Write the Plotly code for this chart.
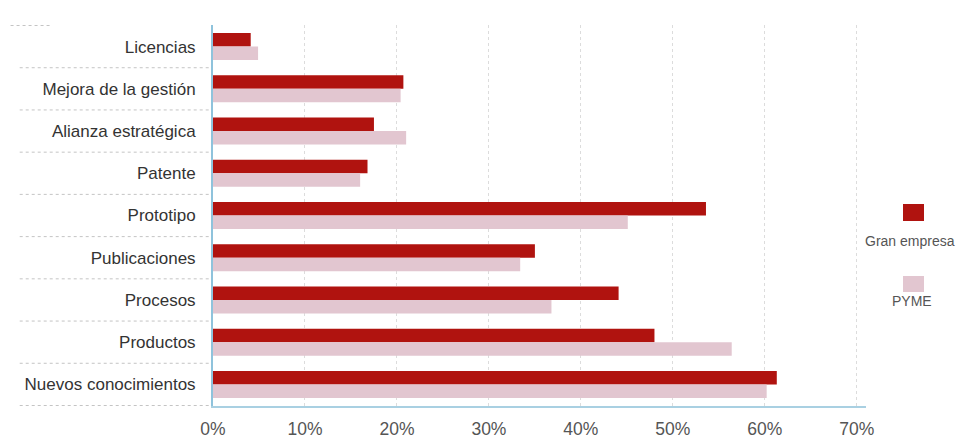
import plotly.graph_objects as go

categories = ["Licencias", "Mejora de la gestión", "Alianza estratégica", "Patente",
              "Prototipo", "Publicaciones", "Procesos", "Productos", "Nuevos conocimientos"]
gran_empresa = [4.1, 20.7, 17.5, 16.8, 53.6, 35.0, 44.1, 48.0, 61.3]
pyme = [4.9, 20.4, 21.0, 16.0, 45.1, 33.4, 36.8, 56.4, 60.2]
tick_vals = [0, 10, 20, 30, 40, 50, 60, 70]
tick_text = ["0%", "10%", "20%", "30%", "40%", "50%", "60%", "70%"]
legend_names = ["Gran empresa", "PYME"]

RED = "#b0130f"
PINK = "#e2c6d0"
FONT = "Liberation Sans"

fig = go.Figure()
fig.add_trace(go.Bar(y=categories, x=gran_empresa, orientation="h", name=legend_names[0],
                     marker=dict(color=RED, line=dict(width=0)), offsetgroup="a"))
fig.add_trace(go.Bar(y=categories, x=pyme, orientation="h", name=legend_names[1],
                     marker=dict(color=PINK, line=dict(width=0)), offsetgroup="b"))

# plot area (screen px): x 213..866, y 25..406
def px_x(x):
    return (x - 213) / 653

def px_y(y):
    return (406 - y) / 381

shapes = []
n = len(categories)
for i in range(n + 1):
    yv = i - 0.5
    x0 = -0.31 if i == 0 else -0.296
    x1 = -0.25 if i == 0 else -0.005
    shapes.append(dict(type="line", xref="paper", yref="y", x0=x0, x1=x1,
                       y0=yv, y1=yv, line=dict(color="#c4c4c4", width=1, dash="dot"),
                       layer="below"))

shapes.append(dict(type="rect", xref="paper", yref="paper",
                   x0=px_x(903), x1=px_x(924), y0=px_y(221), y1=px_y(204),
                   fillcolor=RED, line=dict(width=0)))
shapes.append(dict(type="rect", xref="paper", yref="paper",
                   x0=px_x(903), x1=px_x(924), y0=px_y(292), y1=px_y(276),
                   fillcolor=PINK, line=dict(width=0)))

annotations = [
    dict(text=legend_names[0], xref="paper", yref="paper",
         x=px_x(910), y=px_y(241), showarrow=False,
         xanchor="center", yanchor="middle", font=dict(family=FONT, size=14, color="#555")),
    dict(text=legend_names[1], xref="paper", yref="paper",
         x=px_x(912), y=px_y(301), showarrow=False,
         xanchor="center", yanchor="middle", font=dict(family=FONT, size=14, color="#555")),
]

fig.update_layout(
    width=957, height=430,
    margin=dict(l=205, r=99, t=17, b=32, autoexpand=False),
    paper_bgcolor="white", plot_bgcolor="white",
    barmode="group", bargap=0.36, bargroupgap=0.0,
    showlegend=False,
    font=dict(family=FONT, color="#333"),
    shapes=shapes, annotations=annotations,
    xaxis=dict(range=[0, 71], tickvals=tick_vals, ticktext=tick_text,
               showgrid=True, gridcolor="#dcdcdc", griddash="dot", gridwidth=1,
               zeroline=False, showline=True, linecolor="#a9d0e2", linewidth=2,
               ticks="", ticklabelstandoff=6, automargin=False,
               tickfont=dict(family=FONT, size=17.5, color="#555")),
    yaxis=dict(categoryorder="array", categoryarray=categories, autorange="reversed",
               showgrid=False, zeroline=False, showline=True, linecolor="#8fc3dc",
               linewidth=2, ticks="", ticklabelstandoff=12, automargin=False,
               tickfont=dict(family=FONT, size=17, color="#333")),
)

fig.write_html("out.html")
